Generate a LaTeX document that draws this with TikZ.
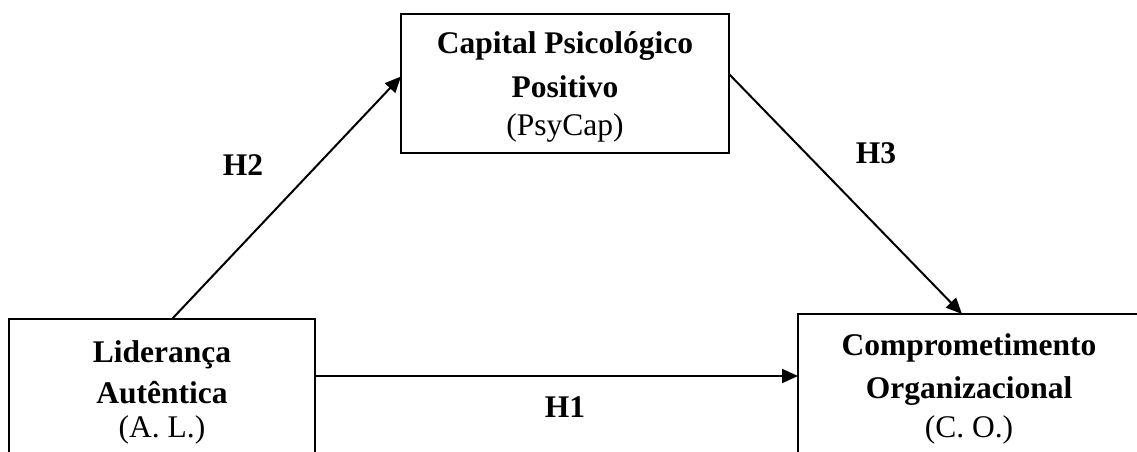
\documentclass[tikz,border=0pt]{standalone}
\usepackage{fontspec}
\setmainfont{Liberation Serif}
\usetikzlibrary{arrows.meta,calc}
\begin{document}
\begin{tikzpicture}[x=1pt,y=-1pt,
  box/.style={draw=black,line width=2pt,inner sep=0pt,outer sep=0pt},
  txt/.style={anchor=base,inner sep=0pt,font=\fontsize{31.5}{38}\selectfont},
  btxt/.style={txt,font=\fontsize{31.5}{38}\selectfont\bfseries},
  conn/.style={line width=2pt,-{Triangle[length=16pt,width=14pt]}}]
\useasboundingbox (0,0) rectangle (1137,451);
\clip (0,0) rectangle (1137,451);
% boxes
\node[box,minimum width=328pt,minimum height=139pt] (tb) at (565,83.5) {};
\node[box,minimum width=306pt,minimum height=146pt] (lb) at (162,392) {};
\node[box,minimum width=342pt,minimum height=146pt] (rb) at (969,387) {};
% top box text
\node[btxt] (t1) at (565,53) {Capital Psicológico};
\node[btxt] (t2) at (565,97) {Positivo};
\node[txt] (t3) at (565,135) {(PsyCap)};
% left box text
\node[btxt] (l1) at (162,362) {Liderança};
\node[btxt] (l2) at (162,403) {Autêntica};
\node[txt] (l3) at (162,437) {(A. L.)};
% right box text
\node[btxt] (r1) at (969,355) {Comprometimento};
\node[btxt] (r2) at (969,398) {Organizacional};
\node[txt] (r3) at (969,437) {(C. O.)};
% connectors
\draw[conn] ([xshift=10pt]lb.north) -- ([yshift=7pt]tb.west);
\draw[conn] ([yshift=9.5pt]tb.east) -- ([xshift=-7pt]rb.north);
\draw[conn] ([yshift=16pt]lb.east) coordinate (h1s) -- (h1s -| rb.west);
% labels
\node[btxt] (h2) at (243,175) {H2};
\node[btxt] (h3) at (876,163) {H3};
\node[btxt] (h1) at (565,417) {H1};
\end{tikzpicture}
\end{document}
